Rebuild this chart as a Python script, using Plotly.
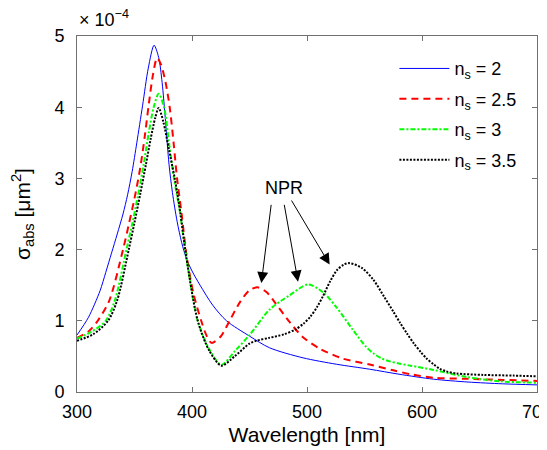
import plotly.graph_objects as go

# Wavelength (nm) and absorption cross-section (x 1e-4 um^2)
wl_2 = [300, 310, 320, 325, 330, 335, 340, 344, 348, 352, 357, 362, 367, 371, 374, 377, 380, 383, 387, 391, 395, 400, 407, 418, 430, 450, 467.6, 496.5, 525.6, 554.5, 580, 610, 640, 670, 700]
s_2 = [0.80, 1.05, 1.42, 1.68, 1.95, 2.22, 2.50, 2.77, 3.10, 3.50, 4.02, 4.55, 4.87, 4.70, 4.35, 3.80, 3.20, 2.80, 2.40, 2.10, 1.88, 1.70, 1.50, 1.22, 1.00, 0.785, 0.62, 0.48, 0.39, 0.32, 0.25, 0.18, 0.14, 0.115, 0.10]

wl_25 = [300, 310, 318, 328, 340, 345, 350, 355, 359, 362.5, 366, 369.6, 373, 377, 380.6, 384, 387, 391, 395, 401, 408, 413, 417, 425, 433, 442, 450, 457, 465, 472, 485, 496.5, 511, 531, 554.5, 575, 590, 610, 640, 670, 700]
s_25 = [0.76, 0.85, 1.00, 1.28, 2.00, 2.35, 2.72, 3.15, 3.60, 4.05, 4.45, 4.69, 4.60, 4.35, 4.00, 3.50, 3.00, 2.50, 1.95, 1.40, 1.00, 0.78, 0.69, 0.78, 1.01, 1.27, 1.43, 1.47, 1.40, 1.26, 0.98, 0.77, 0.61, 0.47, 0.385, 0.305, 0.25, 0.20, 0.185, 0.17, 0.155]

wl_3 = [300, 312, 325, 333, 343, 348, 353, 358, 362.5, 366.7, 371, 375.7, 380, 384.3, 389.3, 395, 405, 415, 425.6, 437, 450, 467.6, 485, 501, 514, 525.6, 540, 551.6, 558, 565, 572, 580, 590, 610, 639, 668, 700]
s_3 = [0.75, 0.84, 1.00, 1.29, 2.00, 2.36, 2.76, 3.20, 3.65, 4.00, 4.19, 4.00, 3.50, 3.00, 2.55, 1.90, 1.00, 0.60, 0.38, 0.57, 0.80, 1.16, 1.36, 1.51, 1.40, 1.19, 0.87, 0.63, 0.54, 0.47, 0.43, 0.40, 0.37, 0.31, 0.21, 0.15, 0.13]

wl_35 = [300, 314, 327, 335, 345, 350, 355, 360, 364, 368, 371, 375, 380, 385, 390, 395, 405, 415, 425.6, 437, 450, 456, 467, 480, 490, 497, 503, 509, 514, 520, 526, 532, 537, 548, 558, 567, 575, 581, 587, 593, 599, 604, 610, 615, 621, 630, 653, 680, 700]
s_35 = [0.72, 0.81, 1.00, 1.29, 2.00, 2.38, 2.78, 3.20, 3.55, 3.85, 3.99, 3.80, 3.40, 3.00, 2.50, 1.90, 1.00, 0.58, 0.37, 0.50, 0.68, 0.72, 0.76, 0.81, 0.88, 0.96, 1.06, 1.20, 1.35, 1.55, 1.71, 1.79, 1.81, 1.74, 1.57, 1.34, 1.13, 0.97, 0.82, 0.68, 0.56, 0.47, 0.39, 0.33, 0.29, 0.26, 0.24, 0.23, 0.22]

series_names = ["n<sub>s</sub> = 2", "n<sub>s</sub> = 2.5", "n<sub>s</sub> = 3", "n<sub>s</sub> = 3.5"]
x_ticks = [300, 400, 500, 600, 700]
y_ticks = [0, 1, 2, 3, 4, 5]

FONT = "Arial, Liberation Sans, Helvetica, sans-serif"

fig = go.Figure()
fig.add_trace(go.Scatter(x=wl_2, y=s_2, mode="lines", name=series_names[0], legendgroup="a",
                         line=dict(color="#0000ff", width=1, shape="spline", smoothing=0.8)))
fig.add_trace(go.Scatter(x=wl_25, y=s_25, mode="lines", name=series_names[1], legendgroup="b",
                         line=dict(color="#ff0000", width=2, dash="7px,5px", shape="spline", smoothing=0.8)))
fig.add_trace(go.Scatter(x=wl_3, y=s_3, mode="lines", name=series_names[2], legendgroup="c",
                         line=dict(color="#00ff00", width=2, dash="5px,2px,2px,2px", shape="spline", smoothing=0.8)))
fig.add_trace(go.Scatter(x=wl_35, y=s_35, mode="lines", name=series_names[3], legendgroup="d",
                         line=dict(color="#000000", width=2, dash="2px,1.5px", shape="spline", smoothing=0.8)))

axis_common = dict(showline=True, linecolor="#707070", linewidth=1, mirror="ticks",
                   ticks="inside", ticklen=5, tickcolor="#707070", showgrid=False, zeroline=False,
                   automargin=False,
                   tickfont=dict(family=FONT, size=18, color="black"))

fig.update_xaxes(range=[300, 700], tickvals=x_ticks, ticklabelstandoff=3,
                 title=dict(text="Wavelength [nm]", font=dict(family=FONT, size=21, color="black"), standoff=6),
                 **axis_common)
fig.update_yaxes(range=[0, 5], tickvals=y_ticks, ticklabelstandoff=8,
                 title=dict(text="σ<sub>abs</sub> [μm<sup>2</sup>]", font=dict(family=FONT, size=21, color="black"), standoff=20),
                 **axis_common)

# NPR annotation with arrows
npr_text = (479.7, 2.86)
arrow_tails = [(469, 2.65), (480, 2.65), (485.8, 2.71)]
arrow_tips = [(460.3, 1.53), (492.2, 1.55), (519.7, 1.79)]

fig.add_annotation(x=npr_text[0], y=npr_text[1], text="NPR", showarrow=False,
                   font=dict(family=FONT, size=18, color="black"))
for (tx, ty), (hx, hy) in zip(arrow_tails, arrow_tips):
    fig.add_annotation(x=hx, y=hy, ax=tx, ay=ty, axref="x", ayref="y", xref="x", yref="y",
                       text="", showarrow=True, arrowhead=2, arrowsize=2.2, arrowwidth=1,
                       arrowcolor="black", standoff=0)

fig.add_annotation(x=0.0, y=1.012, xref="paper", yref="paper", xanchor="left", yanchor="bottom",
                   text="× 10<sup>−4</sup>", showarrow=False,
                   font=dict(family=FONT, size=18, color="black"))

# The page adds an 8px body margin; margins compensate for it
fig.update_layout(
    width=547, height=450,
    margin=dict(l=69, r=18, t=28, b=66),
    plot_bgcolor="white", paper_bgcolor="white",
    font=dict(family=FONT, size=18, color="black"),
    legend=dict(x=0.69, y=0.96, xanchor="left", yanchor="top", bgcolor="rgba(0,0,0,0)",
                borderwidth=0, itemwidth=50, tracegroupgap=4, traceorder="grouped",
                font=dict(family=FONT, size=18, color="black")),
)

fig.write_html("out.html")
